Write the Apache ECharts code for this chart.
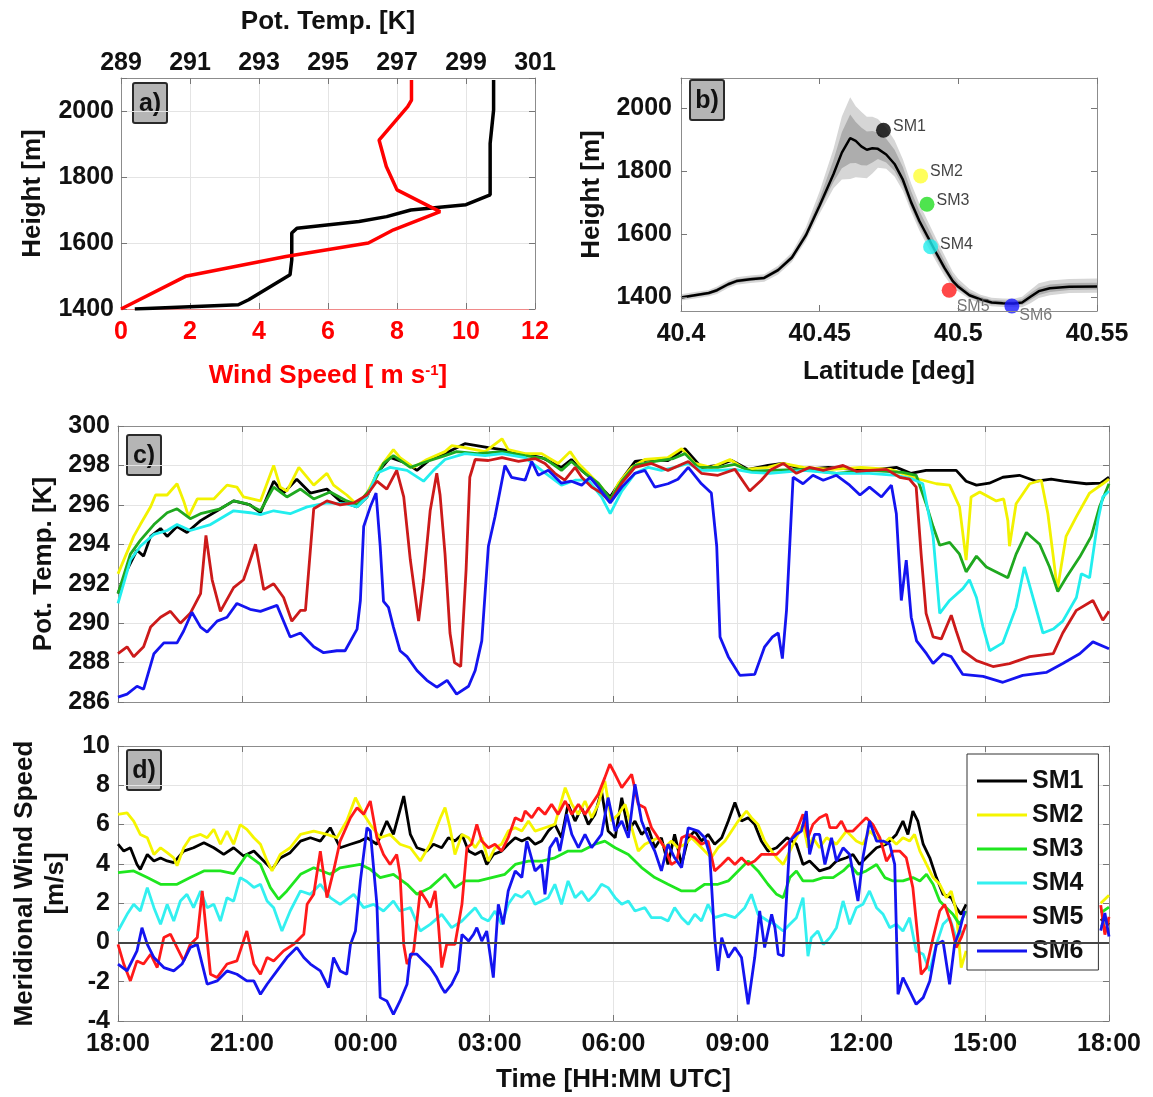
<!DOCTYPE html>
<html>
<head>
<meta charset="utf-8">
<title>Station profiles and time series</title>
<script src="https://cdn.jsdelivr.net/npm/echarts@6/dist/echarts.min.js"></script>
<style>
  html, body { margin: 0; padding: 0; background: #fff; }
  #chart { width: 1153px; height: 1097px; }
</style>
</head>
<body>
<div id="chart"></div>
<script>
// ---------- panel a: sounding profile ----------
const profHeightT = [1400, 1413, 1428, 1504, 1549, 1630, 1645, 1665, 1680, 1700, 1716, 1746, 1902, 2003, 2094]
const profTemp = [289.4, 292.4, 292.7, 293.9, 293.95, 293.95, 294.1, 295.9, 296.7, 297.4, 299.0, 299.7, 299.7, 299.8, 299.8]
const profHeightW = [1400, 1499, 1559, 1600, 1640, 1695, 1711, 1761, 1832, 1912, 2013, 2033, 2094]
const profWind = [0, 1.87, 4.78, 7.17, 7.9, 9.25, 8.94, 8.0, 7.69, 7.48, 8.31, 8.42, 8.42]

// ---------- panel b: terrain cross section ----------
const terrainLat = [40.400, 40.405, 40.410, 40.413, 40.417, 40.420, 40.425, 40.430, 40.435, 40.440,
  40.445, 40.450, 40.455, 40.458, 40.461, 40.463, 40.465, 40.467, 40.469, 40.471,
  40.474, 40.477, 40.480, 40.483, 40.486, 40.489, 40.492, 40.495, 40.498, 40.500,
  40.504, 40.508, 40.512, 40.516, 40.520, 40.523, 40.526, 40.529, 40.533, 40.540, 40.550]
const terrainH = [1398, 1405, 1412, 1421, 1440, 1450, 1456, 1460, 1485, 1525,
  1595, 1690, 1790, 1858, 1904, 1895, 1878, 1867, 1872, 1870,
  1852, 1822, 1772, 1700, 1640, 1590, 1540, 1492, 1450, 1432,
  1405, 1392, 1382, 1380, 1379, 1382, 1400, 1418, 1427, 1432, 1433]
// spread of the terrain around the centre line (m above / below)
const outerUp = [10, 10, 10, 12, 12, 12, 12, 12, 14, 16, 25, 45, 80, 115, 130, 110, 110, 105, 100, 95,
  85, 75, 65, 60, 55, 50, 45, 40, 30, 25, 20, 15, 15, 15, 15, 18, 22, 25, 25, 25, 25]
const outerDown = [10, 10, 10, 12, 12, 12, 12, 12, 14, 14, 18, 25, 45, 85, 130, 115, 100, 90, 80, 60,
  45, 40, 35, 30, 30, 30, 28, 25, 20, 15, 12, 12, 12, 12, 12, 15, 20, 22, 22, 20, 20]
const innerUp = [5, 5, 5, 6, 6, 6, 6, 6, 7, 8, 12, 22, 45, 65, 75, 60, 60, 58, 55, 52,
  50, 45, 40, 35, 32, 30, 26, 22, 16, 12, 10, 8, 8, 8, 8, 10, 12, 12, 12, 12, 12]
const innerDown = [5, 5, 5, 6, 6, 6, 6, 6, 7, 7, 10, 12, 25, 50, 80, 70, 60, 50, 45, 32,
  25, 22, 20, 18, 17, 16, 15, 12, 10, 8, 6, 6, 6, 6, 6, 8, 10, 12, 12, 10, 10]

const stationNames = ['SM1', 'SM2', 'SM3', 'SM4', 'SM5', 'SM6']
const stationLat = [40.473, 40.4864, 40.4887, 40.49, 40.4967, 40.5193]
const stationHeight = [1929, 1784, 1694, 1559, 1421, 1371]

// ---------- panel c: potential temperature [hours after 18:00, K] ----------
const tempSM1 = [[0,291.5],[0.22,292.7],[0.46,293.7],[0.62,293.4],[0.79,294.4],[1.03,294.8],[1.19,294.4],[1.43,294.9],[1.67,294.6],[2.0,295.2],[2.4,295.7],[2.8,296.2],[3.2,296.0],[3.45,295.6],[3.77,297.2],[4.01,296.6],[4.33,297.3],[4.66,296.6],[5.06,296.8],[5.38,296.2],[5.79,295.9],[6.03,296.4],[6.27,297.6],[6.59,298.4],[7.0,298.1],[7.24,297.75],[7.56,298.3],[7.92,298.6],[8.4,299.1],[8.97,298.9],[9.3,298.8],[9.78,298.6],[10.26,298.4],[10.74,297.9],[10.98,298.3],[11.23,297.75],[11.55,297.2],[11.92,296.4],[12.2,297.3],[12.52,298.2],[12.92,298.3],[13.32,298.25],[13.73,298.85],[14.13,297.9],[14.53,298.0],[14.86,298.25],[15.27,297.8],[15.74,298.0],[16.1,298.1],[16.6,297.8],[17.2,297.9],[17.8,297.8],[18.4,297.8],[18.85,297.9],[19.2,297.6],[19.57,297.75],[19.9,297.75],[20.3,297.75],[20.54,297.2],[20.79,297.0],[21.1,297.1],[21.43,297.4],[21.83,297.5],[22.24,297.2],[22.6,297.3],[22.9,297.2],[23.45,297.07],[23.8,297.1],[24,297.4]]
const tempSM2 = [[0,292.5],[0.38,294.4],[0.54,295.0],[0.79,295.9],[0.91,296.5],[1.19,296.5],[1.43,297.07],[1.59,296.2],[1.71,295.4],[1.92,296.3],[2.32,296.3],[2.64,297.0],[2.88,296.9],[3.04,296.4],[3.45,296.2],[3.77,298.0],[3.93,296.9],[4.09,296.7],[4.38,297.9],[4.74,297.0],[5.06,297.6],[5.22,297.0],[5.54,296.5],[5.79,296.0],[6.03,296.6],[6.35,297.9],[6.67,298.8],[6.83,298.4],[7.16,297.9],[7.48,298.3],[7.92,298.7],[8.08,299.0],[8.4,298.9],[8.89,298.7],[9.3,299.35],[9.45,298.8],[9.86,298.6],[10.26,298.6],[10.66,298.1],[10.95,298.7],[11.15,298.1],[11.39,297.6],[11.71,296.9],[11.92,296.2],[12.12,297.1],[12.44,297.9],[12.76,298.3],[13.32,298.4],[13.65,298.85],[13.97,298.1],[14.37,297.9],[14.82,298.3],[15.19,297.8],[15.74,297.9],[16.1,298.1],[16.6,297.9],[17.3,297.8],[18.0,297.9],[18.7,297.8],[19.41,297.3],[19.82,297.07],[20.14,297.0],[20.38,295.9],[20.54,293.2],[20.66,296.4],[20.87,296.65],[21.27,296.2],[21.45,296.3],[21.55,295.2],[21.59,293.9],[21.75,296.06],[22.08,297.07],[22.36,297.25],[22.52,295.55],[22.75,291.7],[22.96,294.4],[23.21,295.4],[23.53,296.6],[23.85,297.07],[24,297.3]]
const tempSM3 = [[0,291.5],[0.3,293.5],[0.54,294.2],[0.87,295.0],[1.19,295.6],[1.43,295.8],[1.75,295.3],[2.0,295.55],[2.48,295.8],[2.8,296.2],[3.13,296.05],[3.45,295.7],[3.77,296.9],[4.09,296.4],[4.42,296.8],[4.74,296.3],[5.14,296.65],[5.54,296.2],[5.79,296.0],[6.11,296.8],[6.43,298.1],[6.67,298.5],[7.08,297.9],[7.48,298.2],[7.92,298.5],[8.2,298.7],[8.7,298.6],[9.3,298.7],[9.86,298.5],[10.34,298.35],[10.74,297.75],[10.98,298.2],[11.31,297.6],[11.63,297.1],[11.92,296.3],[12.2,297.2],[12.52,298.0],[13.0,298.2],[13.45,298.35],[13.73,298.6],[14.05,297.9],[14.53,297.9],[14.94,298.05],[15.34,297.7],[15.79,297.75],[16.6,297.8],[17.4,297.6],[18.2,297.75],[19.0,297.65],[19.33,297.5],[19.57,296.06],[19.74,294.9],[19.9,293.95],[20.14,294.1],[20.38,293.5],[20.54,292.6],[20.79,293.4],[21.03,292.85],[21.27,292.6],[21.55,292.3],[21.75,293.5],[22.0,294.6],[22.32,294.0],[22.56,292.85],[22.76,291.6],[22.96,292.3],[23.29,293.35],[23.57,294.4],[23.77,295.9],[24,297.07]]
const tempSM4 = [[0,291.0],[0.3,293.2],[0.54,293.9],[0.87,294.5],[1.19,294.7],[1.43,295.0],[1.75,294.7],[2.24,295.0],[2.8,295.7],[3.2,295.6],[3.45,295.5],[3.77,295.7],[4.17,295.55],[4.58,295.9],[5.06,296.1],[5.54,296.05],[5.79,295.9],[6.03,296.4],[6.27,297.6],[6.59,297.9],[7.0,297.75],[7.4,297.2],[7.64,297.75],[7.92,298.3],[8.4,298.6],[8.89,298.5],[9.3,298.6],[9.86,298.4],[10.26,297.75],[10.74,297.0],[11.07,297.25],[11.39,297.25],[11.71,296.4],[11.92,295.55],[12.2,296.7],[12.52,297.6],[12.84,297.9],[13.16,297.75],[13.48,297.9],[13.81,298.1],[14.13,297.75],[14.53,297.75],[14.94,297.8],[15.34,297.65],[15.79,297.6],[16.6,297.75],[17.4,297.6],[18.2,297.6],[18.85,297.5],[19.25,297.3],[19.49,297.07],[19.74,294.4],[19.9,290.5],[20.14,291.15],[20.46,291.75],[20.62,292.2],[20.79,291.3],[20.95,289.8],[21.11,288.6],[21.43,289.0],[21.75,290.8],[21.95,292.85],[22.16,291.3],[22.4,289.5],[22.65,289.7],[22.88,290.1],[23.21,291.3],[23.33,292.5],[23.53,292.3],[23.73,295.2],[23.85,296.4],[24,296.7]]
const tempSM5 = [[0,288.45],[0.22,288.8],[0.38,288.3],[0.62,288.8],[0.79,289.8],[1.03,290.3],[1.27,290.6],[1.51,290.0],[1.75,290.5],[2.0,291.5],[2.13,294.45],[2.28,292.2],[2.48,290.6],[2.8,291.8],[3.04,292.2],[3.17,293.0],[3.33,294.0],[3.53,291.7],[3.77,292.0],[4.01,291.3],[4.21,290.1],[4.42,290.65],[4.54,290.65],[4.74,295.8],[5.06,296.2],[5.38,296.0],[5.71,296.1],[6.03,296.5],[6.27,297.2],[6.51,296.8],[6.75,297.75],[6.92,296.4],[7.08,293.2],[7.28,290.1],[7.4,292.2],[7.56,295.7],[7.72,297.6],[7.8,296.5],[7.92,293.5],[8.04,289.5],[8.15,288.0],[8.3,287.8],[8.43,292.7],[8.52,297.4],[8.65,298.3],[8.97,298.25],[9.3,298.4],[9.7,298.2],[10.1,298.35],[10.34,298.1],[10.58,297.6],[10.82,297.25],[11.07,297.9],[11.23,297.4],[11.47,296.9],[11.71,296.6],[11.92,296.15],[12.2,297.1],[12.52,297.9],[12.92,298.1],[13.32,297.75],[13.81,298.2],[14.13,297.6],[14.53,297.5],[14.94,297.8],[15.3,296.7],[15.58,297.25],[15.79,297.75],[16.11,298.1],[16.43,297.6],[16.75,297.9],[17.08,297.75],[17.56,298.0],[17.88,297.7],[18.2,297.75],[18.61,297.8],[18.93,297.4],[19.17,297.3],[19.33,296.9],[19.45,293.5],[19.57,290.5],[19.74,289.3],[19.94,289.2],[20.18,290.4],[20.3,289.6],[20.46,288.6],[20.79,288.1],[21.19,287.8],[21.59,287.95],[22.08,288.3],[22.65,288.45],[22.88,289.5],[23.21,290.65],[23.61,291.15],[23.85,290.15],[24,290.6]]
const tempSM6 = [[0,286.25],[0.22,286.4],[0.46,286.8],[0.62,286.65],[0.87,288.45],[1.11,289.0],[1.43,289.0],[1.59,289.6],[1.79,290.55],[2.0,289.8],[2.16,289.55],[2.4,290.1],[2.64,290.3],[2.88,291.0],[3.2,290.7],[3.45,290.6],[3.85,290.9],[4.17,289.3],[4.42,289.5],[4.74,288.8],[4.98,288.5],[5.3,288.6],[5.5,288.6],[5.79,289.7],[5.87,291.15],[5.95,294.9],[6.11,295.9],[6.25,296.6],[6.35,293.9],[6.43,291.1],[6.55,290.8],[6.67,289.8],[6.83,288.6],[7.0,288.3],[7.24,287.6],[7.48,287.1],[7.72,286.75],[7.97,287.1],[8.2,286.4],[8.49,286.8],[8.65,287.6],[8.81,289.1],[8.97,293.9],[9.13,295.4],[9.37,298.0],[9.53,297.4],[9.86,297.25],[10.02,298.2],[10.18,297.5],[10.42,297.75],[10.74,297.1],[10.98,297.2],[11.23,297.0],[11.43,297.4],[11.63,296.9],[11.92,296.1],[12.2,296.9],[12.52,297.6],[12.76,297.75],[13.0,296.9],[13.32,297.07],[13.56,297.3],[13.81,297.9],[14.13,297.07],[14.37,296.6],[14.5,293.9],[14.58,289.3],[14.78,288.3],[15.06,287.35],[15.42,287.4],[15.66,288.8],[15.85,289.3],[15.99,289.5],[16.09,288.2],[16.19,290.65],[16.35,297.4],[16.59,297.07],[16.83,297.5],[17.08,297.25],[17.4,297.5],[17.72,297.0],[17.97,296.5],[18.2,296.9],[18.49,296.4],[18.73,297.0],[18.85,295.55],[18.97,291.15],[19.09,293.2],[19.21,290.3],[19.34,289.1],[19.58,288.45],[19.74,287.95],[19.98,288.45],[20.18,288.3],[20.46,287.4],[20.95,287.3],[21.43,287.0],[21.91,287.35],[22.48,287.5],[22.88,287.95],[23.29,288.45],[23.61,289.05],[24,288.7]]

// ---------- panel d: meridional wind [hours after 18:00, m/s] ----------
const windSM1 = [[0,5.0],[0.14,4.65],[0.3,4.82],[0.46,3.97],[0.54,3.72],[0.71,4.48],[0.87,4.15],[1.03,4.3],[1.19,4.15],[1.35,4.06],[1.59,4.65],[1.83,4.82],[2.08,5.08],[2.32,4.82],[2.56,4.48],[2.8,4.82],[3.04,4.4],[3.29,4.65],[3.53,4.15],[3.73,3.72],[3.93,4.3],[4.17,4.57],[4.42,5.16],[4.66,5.33],[4.9,5.16],[5.14,5.84],[5.38,4.82],[5.63,5.0],[5.87,5.16],[6.03,5.33],[6.27,5.0],[6.51,6.18],[6.67,5.5],[6.92,7.45],[7.08,5.5],[7.24,4.82],[7.48,4.65],[7.64,5.0],[7.84,4.82],[8.0,5.33],[8.16,5.16],[8.33,5.5],[8.49,4.65],[8.65,4.48],[8.81,4.65],[8.93,3.97],[9.09,4.48],[9.29,4.65],[9.45,5.0],[9.62,5.33],[9.78,5.16],[9.94,5.33],[10.1,5.0],[10.26,5.16],[10.42,5.67],[10.58,6.01],[10.74,5.33],[10.9,7.03],[11.07,6.18],[11.23,6.86],[11.39,6.01],[11.55,6.52],[11.71,7.71],[11.87,5.67],[12.04,5.33],[12.2,7.37],[12.36,5.67],[12.52,6.18],[12.68,5.5],[12.84,5.84],[13.0,4.82],[13.16,5.33],[13.32,3.97],[13.48,5.5],[13.65,3.97],[13.81,5.33],[13.97,5.67],[14.13,5.16],[14.29,5.5],[14.45,5.0],[14.62,5.33],[14.78,6.18],[14.94,7.12],[15.1,6.18],[15.26,6.35],[15.42,6.01],[15.58,5.16],[15.74,4.65],[15.95,4.82],[16.2,5.33],[16.43,5.0],[16.59,3.97],[16.75,4.14],[16.99,3.64],[17.24,3.81],[17.4,4.14],[17.64,4.31],[17.8,4.48],[17.96,3.97],[18.12,4.31],[18.37,4.82],[18.61,5.0],[18.85,5.5],[19.01,6.18],[19.13,5.5],[19.25,6.69],[19.37,6.18],[19.5,5.0],[19.66,4.31],[19.82,3.3],[19.98,2.45],[20.18,2.28],[20.3,1.77],[20.42,1.43],[20.54,1.94],[22,'-'],[23.8,1.2],[24,0.9]]
const windSM2 = [[0,6.52],[0.22,6.6],[0.38,6.18],[0.54,5.5],[0.71,5.33],[0.87,4.48],[1.03,4.82],[1.19,4.57],[1.35,4.3],[1.43,3.9],[1.59,4.82],[1.75,5.33],[2.0,5.5],[2.16,5.33],[2.32,5.76],[2.48,5.0],[2.64,5.67],[2.8,5.0],[2.96,6.0],[3.12,5.76],[3.29,5.33],[3.45,5.0],[3.61,4.15],[3.73,3.64],[3.93,4.48],[4.17,4.82],[4.42,5.5],[4.74,5.67],[5.06,5.5],[5.3,5.33],[5.54,6.18],[5.75,7.37],[5.95,6.52],[6.11,6.0],[6.35,5.33],[6.59,5.5],[6.83,5.0],[7.08,4.82],[7.32,4.15],[7.56,5.0],[7.8,6.3],[7.92,6.86],[8.04,5.84],[8.16,4.48],[8.33,5.5],[8.49,5.33],[8.65,4.82],[8.81,5.33],[8.97,4.14],[9.13,4.82],[9.29,5.0],[9.45,5.67],[9.62,5.84],[9.78,5.67],[9.94,6.18],[10.1,5.67],[10.34,5.84],[10.58,6.01],[10.83,7.88],[10.99,7.03],[11.15,6.52],[11.31,7.2],[11.47,6.35],[11.63,7.03],[11.79,8.22],[11.95,6.18],[12.12,6.52],[12.28,7.03],[12.44,5.84],[12.6,4.65],[12.76,5.0],[12.92,5.16],[13.08,5.33],[13.24,4.82],[13.4,5.16],[13.56,4.82],[13.73,5.0],[13.89,5.33],[14.05,5.0],[14.21,4.65],[14.37,4.31],[14.53,4.82],[14.7,5.16],[14.86,5.67],[15.02,6.18],[15.22,6.69],[15.34,6.35],[15.5,6.01],[15.66,5.16],[15.83,4.65],[15.95,4.31],[16.11,3.97],[16.27,4.65],[16.43,5.33],[16.59,6.01],[16.71,4.82],[16.83,5.33],[16.99,4.82],[17.16,5.33],[17.4,5.0],[17.64,5.67],[17.88,5.16],[18.04,5.0],[18.2,5.67],[18.37,5.33],[18.53,5.0],[18.69,5.33],[18.85,5.0],[19.01,5.33],[19.17,5.16],[19.29,5.5],[19.42,4.65],[19.58,3.97],[19.74,3.3],[19.9,2.96],[20.06,2.28],[20.18,2.62],[20.3,1.6],[20.42,-1.28],[20.54,-0.43],[22,'-'],[23.8,2.0],[24,2.4]]
const windSM3 = [[0,3.55],[0.38,3.64],[0.71,3.3],[1.03,2.96],[1.43,2.96],[1.75,3.3],[2.08,3.64],[2.48,3.64],[2.8,3.5],[3.12,4.48],[3.45,3.97],[3.69,2.79],[3.89,2.2],[4.09,2.62],[4.42,3.47],[4.74,3.8],[5.14,3.47],[5.38,3.8],[5.87,3.97],[6.11,3.72],[6.35,3.3],[6.67,3.47],[7.0,2.96],[7.24,2.45],[7.56,2.79],[7.92,3.47],[8.16,2.79],[8.41,3.13],[8.73,3.13],[9.05,3.3],[9.37,3.47],[9.62,3.97],[9.94,4.14],[10.26,4.14],[10.58,4.31],[10.9,4.65],[11.23,4.65],[11.55,5.0],[11.79,5.16],[12.04,4.82],[12.36,4.48],[12.68,3.81],[13.0,3.3],[13.32,2.96],[13.65,2.62],[13.97,2.62],[14.21,2.96],[14.53,2.96],[14.78,3.13],[15.02,3.64],[15.26,4.14],[15.5,3.64],[15.74,2.96],[15.95,2.45],[16.11,2.28],[16.27,3.3],[16.43,3.64],[16.59,3.13],[16.83,3.13],[17.08,3.3],[17.32,3.3],[17.56,3.64],[17.72,3.97],[17.92,3.47],[18.12,3.64],[18.37,3.97],[18.57,3.3],[18.77,3.13],[19.01,3.13],[19.25,3.3],[19.42,3.13],[19.58,3.47],[19.74,2.96],[19.9,2.11],[20.06,1.77],[20.22,1.43],[20.38,0.92],[20.54,1.6],[22,'-'],[23.8,1.5],[24,1.8]]
const windSM4 = [[0,0.58],[0.22,1.43],[0.38,1.94],[0.54,1.6],[0.71,2.79],[0.87,1.77],[1.03,0.92],[1.19,1.94],[1.35,1.09],[1.51,2.11],[1.67,2.45],[1.83,1.77],[2.0,2.62],[2.16,1.77],[2.32,1.94],[2.48,1.09],[2.64,2.28],[2.8,2.1],[2.96,3.3],[3.12,3.1],[3.29,2.8],[3.45,2.96],[3.61,2.11],[3.77,1.77],[3.97,0.58],[4.17,1.6],[4.42,2.62],[4.66,2.45],[4.9,2.96],[5.14,2.28],[5.38,1.94],[5.71,2.45],[5.95,1.77],[6.19,1.94],[6.43,1.6],[6.67,2.11],[6.83,1.6],[7.08,1.77],[7.32,0.58],[7.56,0.92],[7.84,1.43],[8.08,0.75],[8.33,1.09],[8.49,1.43],[8.65,1.77],[8.81,1.26],[8.97,1.09],[9.13,1.6],[9.29,0.92],[9.45,1.94],[9.62,2.45],[9.78,2.3],[9.94,2.62],[10.1,1.94],[10.26,2.11],[10.42,2.28],[10.58,2.96],[10.74,1.94],[10.9,3.13],[11.07,2.28],[11.23,2.6],[11.39,2.11],[11.55,2.45],[11.71,2.96],[11.87,2.79],[12.04,2.28],[12.2,1.94],[12.36,2.11],[12.52,1.6],[12.76,1.77],[12.92,1.26],[13.16,1.26],[13.32,1.09],[13.48,1.77],[13.65,1.26],[13.81,0.92],[13.97,1.43],[14.13,1.09],[14.29,1.94],[14.45,1.26],[14.7,1.43],[14.94,1.26],[15.18,1.77],[15.34,2.45],[15.5,1.43],[15.74,1.09],[15.91,0.92],[16.11,0.58],[16.27,0.92],[16.43,1.26],[16.59,2.28],[16.71,-0.7],[16.79,0.24],[16.95,0.58],[17.08,-0.1],[17.24,0.24],[17.4,0.75],[17.56,2.11],[17.72,0.92],[17.88,1.77],[18.04,1.94],[18.2,2.62],[18.37,1.77],[18.53,1.43],[18.69,0.75],[18.85,0.92],[19.01,0.58],[19.17,1.26],[19.33,-0.43],[19.5,-0.6],[19.66,-1.45],[19.82,-0.1],[19.98,0.92],[20.14,1.26],[20.3,0.24],[20.46,0.58],[22,'-'],[23.8,0.8],[24,1.2]]
const windSM5 = [[0,-0.1],[0.14,-1.1],[0.3,-1.96],[0.46,-0.94],[0.62,-1.1],[0.79,-0.6],[0.95,-1.28],[1.11,0.25],[1.27,0.42],[1.43,-0.26],[1.59,-0.94],[1.75,-0.1],[1.92,0.25],[2.04,2.62],[2.12,0.92],[2.24,-1.62],[2.4,-1.79],[2.64,-1.1],[2.88,-0.94],[3.12,0.58],[3.29,-1.1],[3.45,-1.62],[3.61,-0.77],[3.77,-0.94],[4.01,-0.43],[4.25,-0.1],[4.5,0.42],[4.58,1.94],[4.74,2.45],[4.9,4.65],[5.06,2.28],[5.22,3.64],[5.38,5.16],[5.63,6.35],[5.79,6.86],[5.95,6.52],[6.11,7.2],[6.27,5.33],[6.43,4.48],[6.59,3.97],[6.75,4.48],[6.83,3.47],[6.92,-0.1],[7.0,-1.1],[7.16,-0.43],[7.32,2.62],[7.48,2.1],[7.56,1.77],[7.68,2.62],[7.76,0.92],[7.84,-1.28],[7.96,-0.1],[8.16,-0.1],[8.33,1.94],[8.45,4.82],[8.56,5.0],[8.69,6.01],[8.81,5.16],[8.97,4.82],[9.13,5.0],[9.29,4.65],[9.45,5.33],[9.62,6.35],[9.78,6.18],[9.86,6.69],[10.02,6.35],[10.18,6.86],[10.34,6.52],[10.5,7.03],[10.66,6.52],[10.83,7.2],[10.99,6.52],[11.15,7.03],[11.31,6.52],[11.47,7.03],[11.63,7.54],[11.79,8.39],[11.91,9.07],[12.04,8.56],[12.2,7.88],[12.32,8.22],[12.44,8.56],[12.6,7.03],[12.76,6.86],[12.92,5.84],[13.08,5.33],[13.24,4.82],[13.4,3.97],[13.53,4.14],[13.65,5.33],[13.81,5.5],[13.97,5.33],[14.13,5.0],[14.29,5.16],[14.45,3.64],[14.62,3.97],[14.78,4.31],[14.94,3.97],[15.1,4.31],[15.26,3.97],[15.42,4.14],[15.58,4.48],[15.74,4.48],[15.95,4.48],[16.11,4.82],[16.27,5.16],[16.43,5.67],[16.59,6.52],[16.71,5.33],[16.83,6.01],[16.99,6.35],[17.16,6.52],[17.24,5.84],[17.4,5.84],[17.52,6.18],[17.64,5.67],[17.8,5.67],[17.96,6.01],[18.12,6.35],[18.28,6.01],[18.45,5.33],[18.61,4.14],[18.77,4.65],[18.93,4.65],[19.09,4.31],[19.25,2.79],[19.37,0.24],[19.45,-1.62],[19.58,-1.28],[19.74,0.24],[19.9,1.6],[20.02,1.94],[20.18,0.92],[20.3,-0.26],[20.42,0.24],[20.54,0.92],[22,'-'],[23.8,1.9],[23.9,0.4],[24,1.3]]
const windSM6 = [[0,-1.1],[0.22,-1.45],[0.46,-0.43],[0.58,0.75],[0.71,-0.1],[0.87,-0.77],[1.11,-1.28],[1.35,-1.45],[1.55,-1.1],[1.75,-0.26],[1.92,-0.1],[2.0,-0.77],[2.16,-2.13],[2.4,-1.96],[2.64,-1.45],[2.88,-1.62],[3.12,-1.96],[3.29,-1.96],[3.45,-2.64],[3.61,-2.13],[3.85,-1.45],[4.09,-0.77],[4.33,-0.26],[4.5,-0.77],[4.66,-1.1],[4.9,-1.45],[5.1,-2.3],[5.22,-0.77],[5.38,-1.45],[5.54,-1.62],[5.63,-0.1],[5.75,0.58],[5.87,3.13],[6.03,5.84],[6.11,5.67],[6.19,3.8],[6.27,1.94],[6.31,-0.43],[6.35,-2.81],[6.51,-2.98],[6.67,-3.66],[6.83,-2.98],[7.0,-2.13],[7.08,-0.6],[7.24,-0.6],[7.4,-0.94],[7.56,-1.28],[7.72,-1.79],[7.84,-2.3],[7.92,-2.56],[8.08,-2.13],[8.24,-1.45],[8.33,0.41],[8.49,0.07],[8.61,0.41],[8.69,0.75],[8.81,0.07],[8.93,0.58],[9.09,-1.79],[9.21,1.94],[9.33,0.92],[9.45,2.62],[9.62,3.64],[9.78,3.3],[9.9,5.16],[10.1,3.64],[10.26,3.97],[10.34,2.45],[10.46,4.82],[10.62,5.33],[10.7,4.65],[10.87,6.52],[10.99,5.5],[11.15,4.82],[11.31,5.5],[11.47,4.82],[11.71,5.5],[11.87,7.37],[12.04,5.67],[12.2,6.18],[12.36,5.33],[12.52,8.05],[12.68,6.18],[12.84,5.33],[13.0,4.65],[13.16,3.64],[13.32,5.0],[13.48,4.31],[13.65,3.81],[13.81,5.84],[14.05,5.67],[14.21,5.33],[14.33,4.48],[14.45,0.24],[14.53,-1.45],[14.62,0.24],[14.78,-0.77],[14.94,-0.26],[15.1,-0.77],[15.26,-3.15],[15.42,-0.77],[15.54,1.6],[15.66,-0.26],[15.83,1.43],[15.91,0.75],[15.99,-0.6],[16.11,-0.69],[16.27,5.16],[16.43,5.5],[16.55,5.67],[16.67,6.69],[16.75,4.48],[16.87,5.5],[16.99,5.5],[17.12,3.97],[17.28,5.33],[17.4,4.14],[17.56,4.82],[17.72,4.48],[17.92,2.11],[18.04,4.31],[18.2,6.18],[18.37,5.16],[18.53,5.16],[18.69,5.0],[18.81,3.97],[18.89,-2.64],[19.01,-1.79],[19.17,-2.47],[19.33,-3.15],[19.5,-2.81],[19.66,-1.96],[19.82,-0.1],[19.98,0.07],[20.14,-2.13],[20.26,-0.1],[20.38,0.58],[20.5,1.6],[22,'-'],[23.8,0.6],[23.9,1.5],[24,0.3]]

const tempSeries = [tempSM1, tempSM2, tempSM3, tempSM4, tempSM5, tempSM6]
const windSeries = [windSM1, windSM2, windSM3, windSM4, windSM5, windSM6]

// ---------- styling ----------
const FONT = 'Liberation Sans'
const stationColors = ['#000000', '#ffff33', '#22dd22', '#22eeee', '#ff1a1a', '#1a1aff']
const cColors = ['#000000', '#f2f200', '#1fa81f', '#22eeee', '#cc1a1a', '#1414f0']
const dColors = ['#000000', '#f5f500', '#1fe61f', '#33f0f0', '#ff1a1a', '#1414f0']
const boxColor = '#8c8c8c'
const gridLine = { show: true, lineStyle: { color: '#e4e4e4', width: 1 } }

function tickLabel(extra) {
  return Object.assign({ fontFamily: FONT, fontWeight: 'bold', fontSize: 25, color: '#111' }, extra)
}
function nameStyle(extra) {
  return Object.assign({ fontFamily: FONT, fontWeight: 'bold', fontSize: 26, color: '#111' }, extra)
}
const innerTick = { show: true, inside: true, length: 6, lineStyle: { color: '#777' } }

// mirrored axis that only draws the box edge and inward ticks
function mirrorAxis(gridIndex, position, min, max, interval, extra) {
  return Object.assign({
    type: 'value', gridIndex, position, min, max, interval,
    axisLine: { show: true, onZero: false, lineStyle: { color: boxColor } },
    axisTick: innerTick, axisLabel: { show: false }, splitLine: { show: false }
  }, extra)
}

function hhmm(v) {
  const h = (18 + v) % 24
  return (h < 10 ? '0' : '') + h + ':00'
}

function panelTag(text, x, y) {
  return {
    type: 'group', x, y, z: 100,
    children: [
      { type: 'rect', shape: { x: 0, y: 0, width: 34, height: 40, r: 2 },
        style: { fill: '#b5b5b5', stroke: '#2a2a2a', lineWidth: 2 } },
      { type: 'text', x: 17, y: 21,
        style: { text, font: 'bold 25px ' + FONT, fill: '#111', align: 'center', verticalAlign: 'middle' } }
    ]
  }
}

const chart = echarts.init(document.getElementById('chart'), null, { renderer: 'canvas' })

const series = []

// panel a
series.push({
  name: 'Pot. Temp.', type: 'line', xAxisIndex: 1, yAxisIndex: 0, symbol: 'none',
  lineStyle: { color: '#000', width: 3.5 },
  data: profTemp.map((t, i) => [t, profHeightT[i]])
})
series.push({
  name: 'Wind Speed', type: 'line', xAxisIndex: 0, yAxisIndex: 0, symbol: 'none',
  lineStyle: { color: '#ff0000', width: 3.5 },
  data: profWind.map((w, i) => [w, profHeightW[i]])
})

// panel b: spread bands as layered fills (outer top, inner top, inner bottom, outer bottom)
function bandEdge(offsets, sign, color) {
  series.push({
    type: 'line', xAxisIndex: 2, yAxisIndex: 2, symbol: 'none', silent: true, z: 1,
    lineStyle: { width: 0, opacity: 0 },
    areaStyle: { color, opacity: 1, origin: 'start' },
    data: terrainLat.map((x, i) => [x, terrainH[i] + sign * offsets[i]])
  })
}
bandEdge(outerUp, 1, '#d6d6d6')
bandEdge(innerUp, 1, '#adadad')
bandEdge(innerDown, -1, '#d6d6d6')
bandEdge(outerDown, -1, '#ffffff')
series.push({
  name: 'terrain', type: 'line', xAxisIndex: 2, yAxisIndex: 2, symbol: 'none', z: 3,
  lineStyle: { color: '#000', width: 2.5 },
  data: terrainLat.map((x, i) => [x, terrainH[i]])
})
const labelPos = [
  { position: 'right', offset: [0, -4] },
  { position: 'right', offset: [0, -4] },
  { position: 'right', offset: [0, -4] },
  { position: 'right', offset: [0, -2] },
  { position: [15, 16], color: '#555' },
  { position: [15, 9], color: '#555' }
]
series.push({
  name: 'stations', type: 'scatter', xAxisIndex: 2, yAxisIndex: 2, symbolSize: 15, z: 5,
  label: { show: true, formatter: '{b}', fontFamily: FONT, fontSize: 16, color: '#111', distance: 2 },
  data: stationNames.map((n, i) => ({
    name: n, value: [stationLat[i], stationHeight[i]],
    itemStyle: { color: stationColors[i] },
    label: labelPos[i]
  }))
})

// panel c
tempSeries.forEach((d, i) => {
  series.push({
    name: 'c-' + stationNames[i], type: 'line', xAxisIndex: 4, yAxisIndex: 4, symbol: 'none',
    lineStyle: { color: cColors[i], width: 2.8 }, data: d
  })
})

// panel d
windSeries.forEach((d, i) => {
  const s = {
    name: stationNames[i], type: 'line', xAxisIndex: 6, yAxisIndex: 6, symbol: 'none',
    itemStyle: { color: dColors[i] },
    lineStyle: { color: dColors[i], width: 2.8 }, data: d
  }
  if (i === 0) {
    s.markLine = {
      silent: true, symbol: 'none', label: { show: false },
      lineStyle: { color: '#444', width: 2, type: 'solid' },
      data: [{ yAxis: 0 }]
    }
  }
  series.push(s)
})

const bTicks = [1400, 1600, 1800, 2000]

const option = {
  backgroundColor: '#fff',
  animation: false,
  textStyle: { fontFamily: FONT },
  grid: [
    { left: 121, top: 78, width: 414, height: 231, outerBoundsMode: 'none' },
    { left: 681, top: 78, width: 416, height: 233, outerBoundsMode: 'none' },
    { left: 118, top: 426, width: 991, height: 276, outerBoundsMode: 'none' },
    { left: 118, top: 746, width: 991, height: 275, outerBoundsMode: 'none' }
  ],
  xAxis: [
    { // 0: a bottom, wind speed
      type: 'value', gridIndex: 0, position: 'bottom', min: 0, max: 12, interval: 2,
      name: 'Wind Speed [ m s{sup|-1}]', nameLocation: 'middle', nameGap: 54,
      nameTextStyle: nameStyle({ color: '#ff0000', rich: {
        sup: { fontFamily: FONT, fontWeight: 'bold', fontSize: 15, color: '#ff0000', verticalAlign: 'top' } } }),
      axisLine: { show: true, onZero: false, lineStyle: { color: '#f08a8a' } },
      axisTick: innerTick,
      axisLabel: tickLabel({ color: '#ff0000', margin: 11 }),
      splitLine: gridLine
    },
    { // 1: a top, potential temperature
      type: 'value', gridIndex: 0, position: 'top', min: 289, max: 301, interval: 2,
      name: 'Pot. Temp. [K]', nameLocation: 'middle', nameGap: 43, nameTextStyle: nameStyle(),
      axisLine: { show: true, onZero: false, lineStyle: { color: boxColor } },
      axisTick: innerTick,
      axisLabel: tickLabel({ margin: 2 }),
      splitLine: { show: false }
    },
    { // 2: b bottom, latitude
      type: 'value', gridIndex: 1, position: 'bottom', min: 40.4, max: 40.55, interval: 0.05, z: 10,
      name: 'Latitude [deg]', nameLocation: 'middle', nameGap: 48, nameTextStyle: nameStyle(),
      axisLine: { show: true, onZero: false, lineStyle: { color: boxColor } },
      axisTick: innerTick,
      axisLabel: tickLabel({ margin: 11 }),
      splitLine: { show: false }
    },
    mirrorAxis(1, 'top', 40.4, 40.55, 0.05, { z: 10 }),
    { // 4: c bottom (no labels)
      type: 'value', gridIndex: 2, position: 'bottom', min: 0, max: 24, interval: 3,
      axisLine: { show: true, onZero: false, lineStyle: { color: boxColor } },
      axisTick: innerTick, axisLabel: { show: false }, splitLine: gridLine
    },
    mirrorAxis(2, 'top', 0, 24, 3),
    { // 6: d bottom, time
      type: 'value', gridIndex: 3, position: 'bottom', min: 0, max: 24, interval: 3,
      name: 'Time [HH:MM UTC]', nameLocation: 'middle', nameGap: 46, nameTextStyle: nameStyle(),
      axisLine: { show: true, onZero: false, lineStyle: { color: boxColor } },
      axisTick: innerTick,
      axisLabel: tickLabel({ margin: 11, formatter: hhmm }),
      splitLine: gridLine
    },
    mirrorAxis(3, 'top', 0, 24, 3)
  ],
  yAxis: [
    { // 0: a height
      type: 'value', gridIndex: 0, min: 1400, max: 2100, interval: 200,
      name: 'Height [m]', nameLocation: 'middle', nameGap: 75, nameTextStyle: nameStyle(),
      axisLine: { show: true, onZero: false, lineStyle: { color: boxColor } },
      axisTick: innerTick,
      axisLabel: tickLabel({ margin: 7, formatter: v => (v % 200 === 0 && v < 2100 ? String(v) : '') }),
      splitLine: gridLine
    },
    mirrorAxis(0, 'right', 1400, 2100, 200),
    { // 2: b height
      type: 'value', gridIndex: 1, min: 1355, max: 2095, z: 10,
      name: 'Height [m]', nameLocation: 'middle', nameGap: 76, nameTextStyle: nameStyle(),
      axisLine: { show: true, onZero: false, lineStyle: { color: boxColor } },
      axisTick: Object.assign({ customValues: bTicks }, innerTick),
      axisLabel: tickLabel({ margin: 9, customValues: bTicks, formatter: v => String(v) }),
      splitLine: { show: false }
    },
    { // 3: b right edge
      type: 'value', gridIndex: 1, position: 'right', min: 1355, max: 2095, z: 10,
      axisLine: { show: true, onZero: false, lineStyle: { color: boxColor } },
      axisTick: Object.assign({ customValues: bTicks }, innerTick),
      axisLabel: { show: false }, splitLine: { show: false }
    },
    { // 4: c potential temperature
      type: 'value', gridIndex: 2, min: 286, max: 300, interval: 2,
      name: 'Pot. Temp. [K]', nameLocation: 'middle', nameGap: 61, nameTextStyle: nameStyle(),
      axisLine: { show: true, onZero: false, lineStyle: { color: boxColor } },
      axisTick: innerTick,
      axisLabel: tickLabel({ margin: 8 }),
      splitLine: gridLine
    },
    mirrorAxis(2, 'right', 286, 300, 2),
    { // 6: d meridional wind
      type: 'value', gridIndex: 3, min: -4, max: 10, interval: 2,
      name: 'Meridional Wind Speed\n[m/s]', nameLocation: 'middle', nameGap: 47,
      nameTextStyle: nameStyle({ lineHeight: 31 }),
      axisLine: { show: true, onZero: false, lineStyle: { color: boxColor } },
      axisTick: innerTick,
      axisLabel: tickLabel({ margin: 8 }),
      splitLine: gridLine
    },
    mirrorAxis(3, 'right', -4, 10, 2)
  ],
  legend: {
    data: stationNames,
    orient: 'vertical',
    left: 967, top: 754,
    padding: [13, 15, 5, 10],
    itemGap: 6,
    itemWidth: 50, itemHeight: 3,
    icon: 'rect',
    backgroundColor: '#fff',
    borderColor: '#333', borderWidth: 1,
    textStyle: { fontFamily: FONT, fontWeight: 'bold', fontSize: 25, color: '#111', lineHeight: 28 }
  },
  graphic: [
    panelTag('a)', 133, 83),
    panelTag('b)', 690, 80),
    panelTag('c)', 127, 435),
    panelTag('d)', 127, 750)
  ],
  series
}

chart.setOption(option)
</script>
</body>
</html>
